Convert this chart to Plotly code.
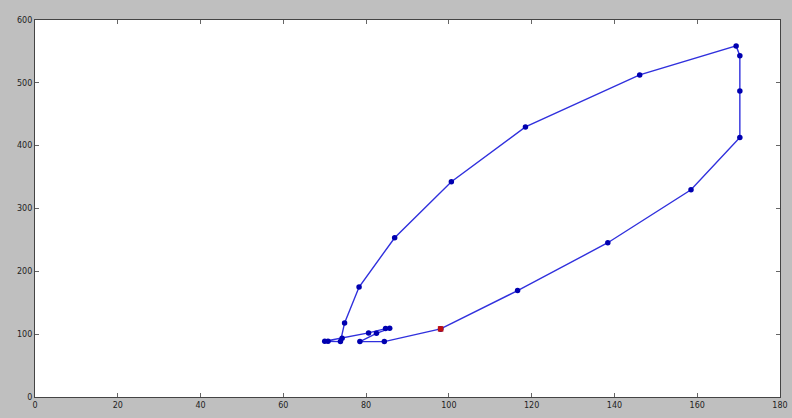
import plotly.graph_objects as go

# Trajectory (time order)
x_vals = [98.0, 84.4, 78.5, 82.5, 85.7, 84.7, 80.6, 74.2, 70.8, 70.0, 73.8, 74.8, 78.3,
          86.9, 100.6, 118.5, 146.1, 169.4, 170.3, 170.3, 170.3, 158.5, 138.4, 116.6, 98.0]
y_vals = [108.4, 88.2, 88.2, 101.4, 109.3, 108.9, 102.0, 93.5, 88.7, 88.7, 88.2, 117.9, 175.1,
          253.5, 342.5, 429.9, 512.6, 558.7, 543.2, 487.1, 412.9, 329.8, 245.5, 169.3, 108.4]

# Highlighted point
hl_x = [98.0]
hl_y = [108.4]

x_ticks = [0, 20, 40, 60, 80, 100, 120, 140, 160, 180]
y_ticks = [0, 100, 200, 300, 400, 500, 600]

fig = go.Figure()
fig.add_trace(go.Scatter(
    x=x_vals, y=y_vals, mode="lines+markers",
    line=dict(color="#3030dd", width=1.4),
    marker=dict(color="#0000b0", size=5.5, line=dict(width=0)),
    showlegend=False, hoverinfo="x+y",
))
fig.add_trace(go.Scatter(
    x=hl_x, y=hl_y, mode="markers",
    marker=dict(color="#c01010", size=5.5, symbol="square", line=dict(width=0)),
    showlegend=False,
))

axis_common = dict(
    showgrid=False, zeroline=False, showline=True, linecolor="#444444", linewidth=1.2,
    mirror="ticks", ticks="inside", ticklen=4, tickcolor="#666666", tickwidth=1,
    automargin=False,
    tickfont=dict(family="DejaVu Sans", size=8, color="#222222"),
)

fig.update_layout(
    width=792, height=418,
    paper_bgcolor="#bfbfbf", plot_bgcolor="#ffffff",
    margin=dict(l=35, r=12, t=20, b=21, autoexpand=False),
    xaxis=dict(range=[0, 180], tickvals=x_ticks, ticktext=[str(v) for v in x_ticks], **axis_common),
    yaxis=dict(range=[0, 600], tickvals=y_ticks, ticktext=[str(v) for v in y_ticks], **axis_common),
)

fig.write_html(
    "out.html",
    config={"displayModeBar": False},
    post_script="document.body.style.margin='0';document.body.style.background='#bfbfbf';",
)
